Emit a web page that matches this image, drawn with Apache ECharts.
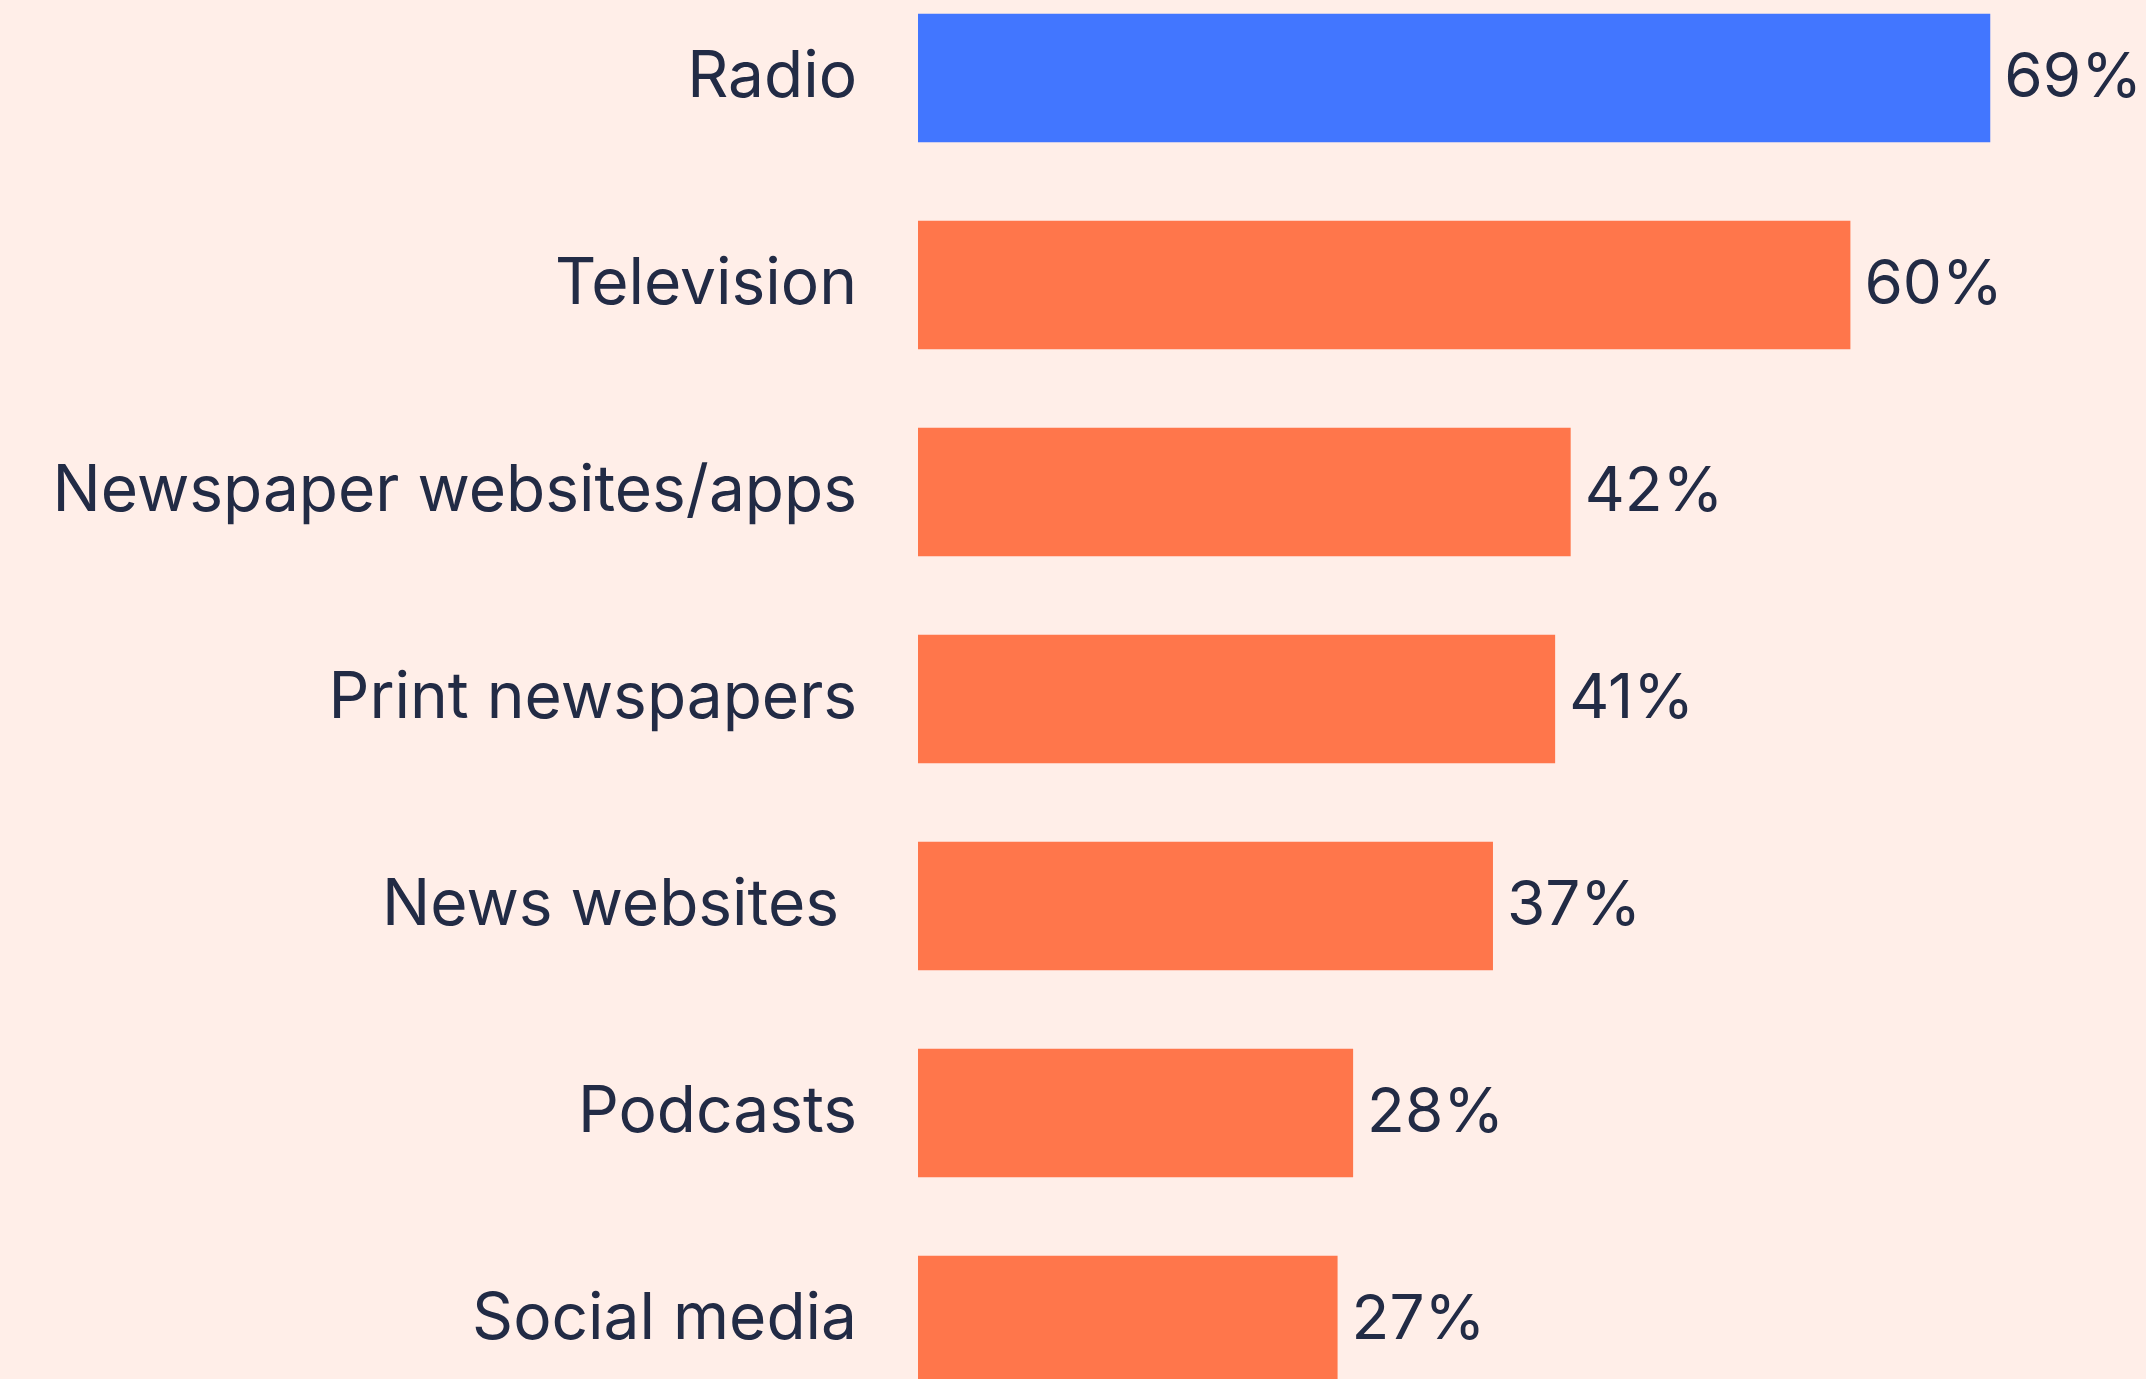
<!DOCTYPE html>
<html>
<head>
<meta charset="utf-8">
<script src="https://cdn.jsdelivr.net/npm/echarts@6/dist/echarts.min.js"></script>
<style>
  html, body { margin: 0; padding: 0; background: #FFEEE8; }
  #chart { width: 2146px; height: 1379px; }
</style>
</head>
<body>
<div id="chart"></div>
<script>
// Share of respondents using each source
const categories = ['Radio', 'Television', 'Newspaper websites/apps', 'Print newspapers', 'News websites ', 'Podcasts', 'Social media'];
const values = [69, 60, 42, 41, 37, 28, 27];
const highlighted = ['Radio'];

const BLUE = '#4276FF';
const ORANGE = '#FF764B';
const INK = '#222B45';
const FONT = 'Inter, "Noto Sans", sans-serif';

const chart = echarts.init(document.getElementById('chart'), null, { renderer: 'canvas' });

chart.setOption({
  backgroundColor: '#FFEEE8',
  animation: false,
  grid: {
    left: 918, top: -25.5, width: 1554, height: 1449,
    containLabel: false,
    outerBoundsMode: 'none'
  },
  xAxis: {
    type: 'value', min: 0, max: 100,
    show: false
  },
  yAxis: {
    type: 'category',
    data: categories,
    inverse: true,
    axisLine: { show: false },
    axisTick: { show: false },
    splitLine: { show: false },
    axisLabel: {
      margin: 61,
      fontSize: 64,
      fontFamily: FONT,
      color: INK
    }
  },
  series: [{
    type: 'bar',
    barCategoryGap: '38%',
    data: values.map((v, i) => ({
      value: v,
      itemStyle: { color: highlighted.includes(categories[i]) ? BLUE : ORANGE }
    })),
    label: {
      show: true,
      position: 'right',
      distance: 14,
      fontSize: 62,
      fontFamily: FONT,
      color: INK,
      formatter: p => p.value + '%'
    }
  }]
});
</script>
</body>
</html>
